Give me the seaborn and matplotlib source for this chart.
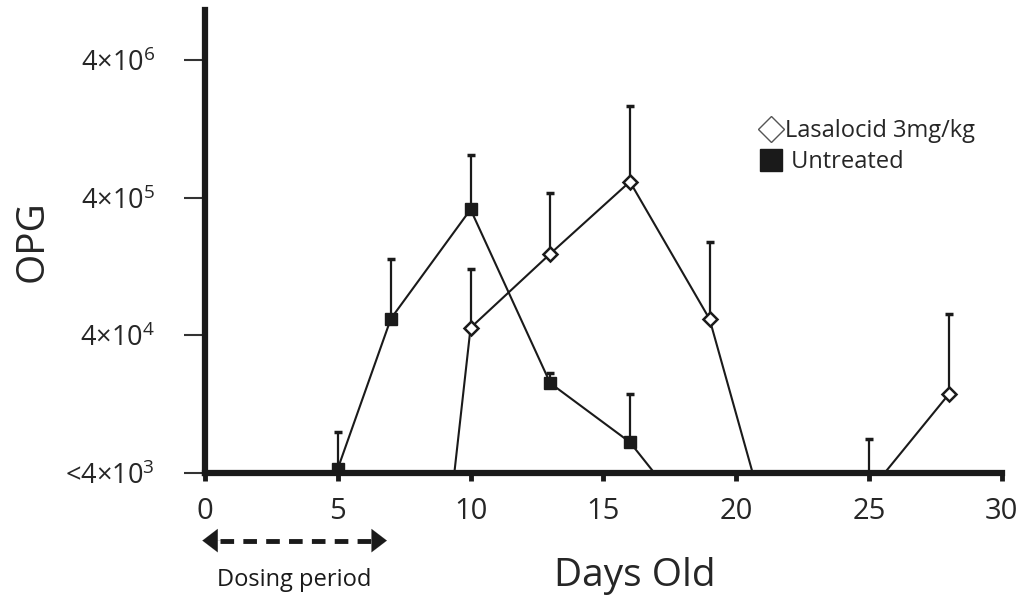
import numpy as np
import pandas as pd
import matplotlib
matplotlib.use('Agg')
import matplotlib.pyplot as plt
import matplotlib.transforms as mtransforms
from matplotlib.lines import Line2D
import seaborn as sns

# --- data (OPG, log scale; values below 4e3 fall under the axis) ---
untreated_days = [5, 7, 10, 13, 16, 19]
untreated_mean = [4.3e3, 5.3e4, 3.3e5, 1.8e4, 6.7e3, 1.25e3]
untreated_upper = [7.9e3, 1.43e5, 8.2e5, 2.15e4, 1.49e4, np.nan]

lasalocid_days = [7, 10, 13, 16, 19, 22, 25, 28]
lasalocid_mean = [0.3, 4.55e4, 1.57e5, 5.25e5, 5.26e4, 450, 2.9e3, 1.49e4]
lasalocid_upper = [np.nan, 1.22e5, 4.33e5, 1.87e6, 1.92e5, np.nan, 7.1e3, 5.69e4]

y_ticks = [4e3, 4e4, 4e5, 4e6]
y_ticklabels = ['<4×10$^{3}$', '4×10$^{4}$', '4×10$^{5}$', '4×10$^{6}$']
x_ticks = [0, 5, 10, 15, 20, 25, 30]
dosing_period = [0, 6.85]

# --- style ---
sns.set_style('white')
plt.rcParams['font.family'] = ['Open Sans', 'DejaVu Sans']
plt.rcParams['mathtext.default'] = 'regular'

fig = plt.figure(figsize=(10.32, 6.02), dpi=100)
ax = fig.add_axes([205 / 1032, 129 / 602, 796.7 / 1032, 463 / 602])

unt = pd.DataFrame({'day': untreated_days, 'opg': untreated_mean, 'upper': untreated_upper})
las = pd.DataFrame({'day': lasalocid_days, 'opg': lasalocid_mean, 'upper': lasalocid_upper})

# error bars (upper only), drawn under the markers
for df in (unt, las):
    e = df.dropna()
    ax.errorbar(e['day'], e['opg'], yerr=[np.zeros(len(e)), e['upper'] - e['opg']],
                fmt='none', ecolor='#1a1a1a', elinewidth=1.6, capsize=3, capthick=2.5, zorder=2)

sns.lineplot(data=unt, x='day', y='opg', ax=ax, color='#1a1a1a', linewidth=1.5,
             marker='s', markersize=9, markerfacecolor='#1a1a1a',
             markeredgecolor='#1a1a1a', markeredgewidth=1, zorder=3)
sns.lineplot(data=las, x='day', y='opg', ax=ax, color='#1a1a1a', linewidth=1.5,
             marker='D', markersize=7, markerfacecolor='white',
             markeredgecolor='#1a1a1a', markeredgewidth=1.8, zorder=3)

ax.set_yscale('log')
ax.set_ylim(4e3, 9.3e6)
ax.set_xlim(0, 30)
ax.set_yticks(y_ticks)
ax.set_yticklabels(y_ticklabels)
ax.yaxis.set_minor_locator(matplotlib.ticker.NullLocator())
ax.set_xticks(x_ticks)
ax.set_xticklabels([str(t) for t in x_ticks])

for side in ['top', 'right']:
    ax.spines[side].set_visible(False)
for side in ['left', 'bottom']:
    ax.spines[side].set_linewidth(4.5)
    ax.spines[side].set_color('#1a1a1a')
    ax.spines[side].set_capstyle('projecting')

ax.tick_params(axis='y', which='major', direction='out', length=15, width=1.5,
               color='#333333', labelsize=19.5, pad=21, left=True)
ax.tick_params(axis='x', which='major', direction='out', length=6, width=3.5,
               color='#1a1a1a', labelsize=21, pad=11, bottom=True)

ax.set_xlabel('Days Old', fontsize=28)
ax.xaxis.set_label_coords(0.540, -0.182)
ax.set_ylabel('OPG', fontsize=28)
ax.yaxis.set_label_coords(-0.192, 0.5)

# dosing period arrow below the x axis
trans = mtransforms.blended_transform_factory(ax.transData, ax.transAxes)
arrow_y = -0.146
ax.plot([dosing_period[0] + 0.55, dosing_period[1] - 0.55], [arrow_y, arrow_y], transform=trans,
        color='#1a1a1a', lw=3.5, ls=(0, (2.8, 1.9)), clip_on=False)
for tip, tail in [(dosing_period[0] - 0.1, dosing_period[0] + 0.6),
                  (dosing_period[1], dosing_period[1] - 0.7)]:
    ax.annotate('', xy=(tip, arrow_y), xytext=(tail, arrow_y), xycoords=trans, textcoords=trans,
                arrowprops=dict(arrowstyle='-|>,head_length=0.55,head_width=0.42',
                                color='#1a1a1a', lw=0.1, mutation_scale=20, shrinkA=0, shrinkB=0))
ax.text(np.mean(dosing_period) - 0.05, -0.245, 'Dosing period', transform=trans,
        ha='center', va='baseline', fontsize=17, color='#1a1a1a')

# legend
handles = [Line2D([], [], ls='none', marker='D', markersize=13, markerfacecolor='white',
                  markeredgecolor='#555555', markeredgewidth=1.0, label='Lasalocid 3mg/kg'),
           Line2D([], [], ls='none', marker='s', markersize=16, markerfacecolor='#1a1a1a',
                  markeredgecolor='#1a1a1a', label=' Untreated')]
ax.legend(handles=handles, loc='upper left', bbox_to_anchor=(0.695, 0.765), frameon=False,
          fontsize=17, handlelength=1.0, handletextpad=0.12, labelspacing=0.32,
          borderaxespad=0, borderpad=0)

fig.savefig('out.png', dpi=100)
